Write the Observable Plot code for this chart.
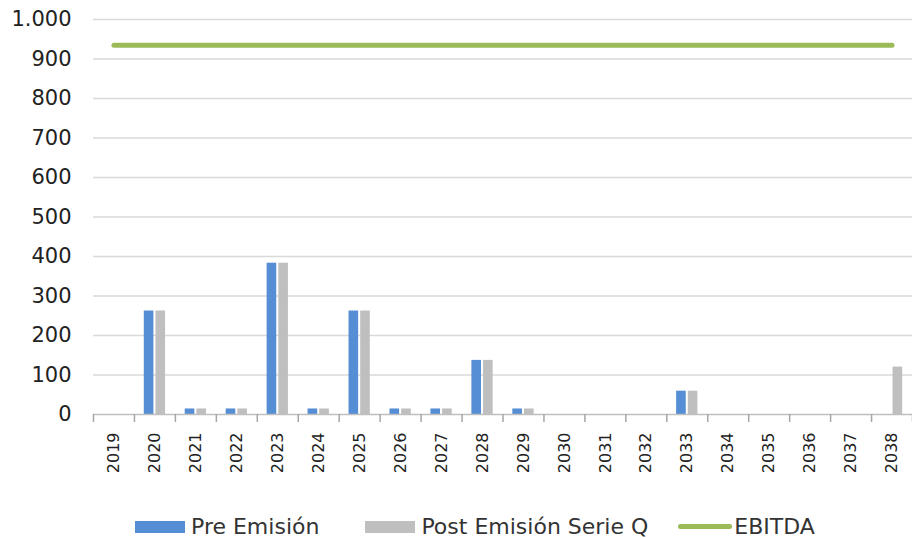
<!DOCTYPE html>
<html>
<head>
<meta charset="utf-8">
<script src="https://cdn.jsdelivr.net/npm/d3@7"></script>
<script src="https://cdn.jsdelivr.net/npm/@observablehq/plot@0.6"></script>
<style>
  html, body { margin: 0; padding: 0; background: #fff; }
  #chart { width: 912px; }
  .legend { display: flex; align-items: center; margin-left: 135px; margin-top: 34px;
    font-family: "DejaVu Sans", sans-serif; font-size: 22px; color: #333; }
  .item { display: flex; align-items: center; }
  .sw { width: 50px; height: 12px; margin-right: 6px; }
  .ln { width: 54px; height: 5px; border-radius: 3px; margin-right: 2px; }
</style>
</head>
<body>
<div id="chart"></div>
<script>
const years = [2019,2020,2021,2022,2023,2024,2025,2026,2027,2028,2029,2030,2031,2032,2033,2034,2035,2036,2037,2038];
const preEmision  = [0,262,14,14,383,14,262,14,14,137,14,0,0,0,59,0,0,0,0,0];
const postEmision = [0,262,14,14,383,14,262,14,14,137,14,0,0,0,59,0,0,0,0,120];
const ebitda = [935,935,935,935,935,935,935,935,935,935,935,935,935,935,935,935,935,935,935,935];
const yTicks = [0,100,200,300,400,500,600,700,800,900,1000];

const seriesNames = ["Pre Emisión", "Post Emisión Serie Q", "EBITDA"];
const colors = ["#558ed5", "#bfbfbf", "#9bbb59"];

const pre = years.map((y, i) => ({year: y, value: preEmision[i]}));
const post = years.map((y, i) => ({year: y, value: postEmision[i]}));
const eb = years.map((y, i) => ({year: y, value: ebitda[i]}));
const boundaries = years.map(y => y - 0.5).concat([years[years.length - 1] + 0.5]);

const loc = d3.formatLocale({decimal: ",", thousands: ".", grouping: [3], currency: ["", ""]});
const fmt = loc.format(",");

const chart = Plot.plot({
  width: 912,
  height: 480,
  marginLeft: 93,
  marginRight: 0,
  marginTop: 19,
  marginBottom: 66,
  style: {fontFamily: "DejaVu Sans, sans-serif", color: "#333", background: "#fff"},
  x: {type: "linear", domain: [years[0] - 0.5, years[years.length - 1] + 0.5]},
  y: {domain: [0, 1000]},
  marks: [
    Plot.gridY(yTicks.filter(t => t > 0), {stroke: "#d9d9d9", strokeOpacity: 1, strokeWidth: 1.5}),
    Plot.axisY(yTicks, {tickSize: 0, tickPadding: 22, tickFormat: fmt, fontSize: 21, fill: "#222", label: null}),
    Plot.rectY(pre.filter(d => d.value > 0), {x1: d => d.year - 0.26, x2: d => d.year - 0.025, y1: 0, y2: "value", fill: colors[0]}),
    Plot.rectY(post.filter(d => d.value > 0), {x1: d => d.year + 0.025, x2: d => d.year + 0.26, y1: 0, y2: "value", fill: colors[1]}),
    Plot.ruleY([0], {stroke: "#bfbfbf", strokeWidth: 1.5}),
    Plot.axisX(boundaries, {tickSize: 8, tickFormat: () => "", stroke: "#a6a6a6", strokeWidth: 1.5, label: null}),
    Plot.axisX(years, {tickSize: 0, tickPadding: 18, tickRotate: -90, fontSize: 16, fill: "#222", stroke: "#222", strokeWidth: 0.3, tickFormat: d => String(d), label: null}),
    Plot.line(eb, {x: "year", y: "value", stroke: colors[2], strokeWidth: 5, strokeLinecap: "round"})
  ]
});
document.getElementById("chart").appendChild(chart);

const gaps = [46, 30, 0];
const legend = document.createElement("div");
legend.className = "legend";
seriesNames.forEach((name, i) => {
  const item = document.createElement("div");
  item.className = "item";
  item.style.marginRight = gaps[i] + "px";
  const sw = document.createElement("div");
  sw.className = i === 2 ? "ln" : "sw";
  sw.style.background = colors[i];
  const t = document.createElement("span");
  t.textContent = name;
  item.appendChild(sw);
  item.appendChild(t);
  legend.appendChild(item);
});
document.body.appendChild(legend);
</script>
</body>
</html>
